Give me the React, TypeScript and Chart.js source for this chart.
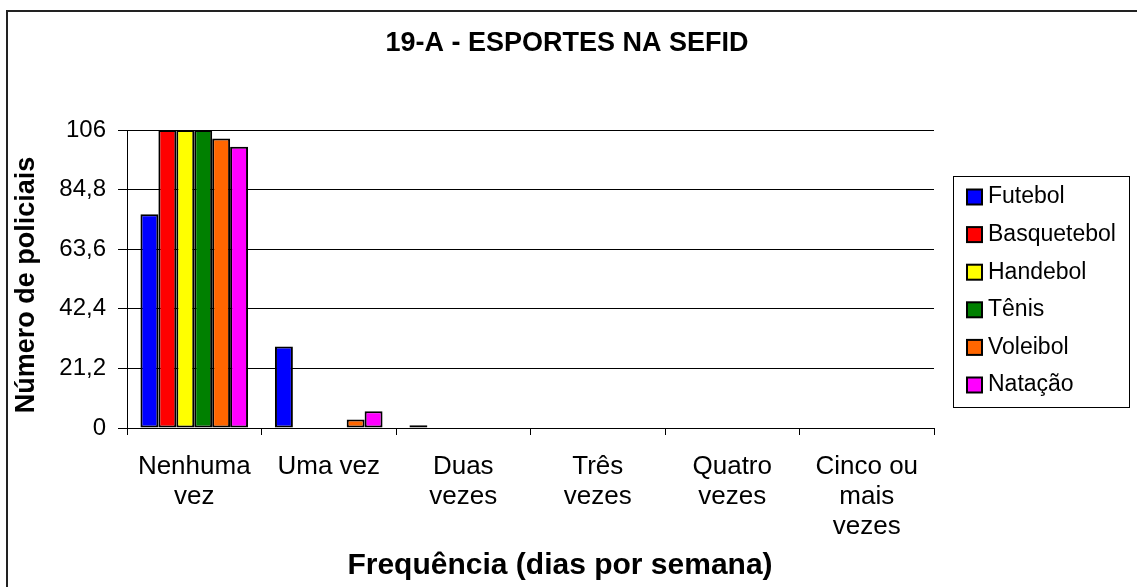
import React, { useEffect, useRef } from "react";
import { Chart, registerables } from "chart.js";

Chart.register(...registerables);

const FONT = '"Liberation Sans", Arial, sans-serif';

const categories: string[][] = [
  ["Nenhuma", "vez"],
  ["Uma vez"],
  ["Duas", "vezes"],
  ["Três", "vezes"],
  ["Quatro", "vezes"],
  ["Cinco ou", "mais", "vezes"],
];

const futebol = [76, 29, 1, 0, 0, 0];
const basquetebol = [106, 0, 0, 0, 0, 0];
const handebol = [106, 0, 0, 0, 0, 0];
const tenis = [106, 0, 0, 0, 0, 0];
const voleibol = [103, 3, 0, 0, 0, 0];
const natacao = [100, 6, 0, 0, 0, 0];

const yTicks = [0, 21.2, 42.4, 63.6, 84.8, 106];

const seriesNames = ["Futebol", "Basquetebol", "Handebol", "Tênis", "Voleibol", "Natação"];
const seriesColors = ["#0000FF", "#FF0000", "#FFFF00", "#008000", "#FF6600", "#FF00FF"];
const seriesData = [futebol, basquetebol, handebol, tenis, voleibol, natacao];

const chartTitle = "19-A - ESPORTES NA SEFID";
const yTitle = "Número de policiais";
const xTitle = "Frequência (dias por semana)";

const decorPlugin = {
  id: "decor",
  beforeDraw(chart: any) {
    const ctx = chart.ctx;
    ctx.save();
    ctx.fillStyle = "#fff";
    ctx.fillRect(0, 0, chart.width, chart.height);
    ctx.strokeStyle = "#222";
    ctx.lineWidth = 2;
    ctx.beginPath();
    ctx.moveTo(7, chart.height + 2);
    ctx.lineTo(7, 11);
    ctx.lineTo(chart.width + 2, 11);
    ctx.stroke();
    ctx.restore();
  },
  afterDraw(chart: any) {
    const ctx = chart.ctx;
    ctx.save();
    ctx.fillStyle = "#000";
    ctx.textAlign = "center";
    ctx.textBaseline = "middle";
    ctx.font = `bold 27px ${FONT}`;
    ctx.fillText(chartTitle, 567, 44);
    ctx.font = `bold 30px ${FONT}`;
    ctx.fillText(xTitle, 560, 566);
    ctx.save();
    ctx.translate(27, 285);
    ctx.rotate(-Math.PI / 2);
    ctx.font = `bold 27px ${FONT}`;
    ctx.fillText(yTitle, 0, 0);
    ctx.restore();

    // legend
    const bx = 953, by = 176, bw = 1129 - 953, bh = 407 - 176;
    ctx.lineWidth = 1;
    ctx.strokeStyle = "#000";
    ctx.strokeRect(bx + 0.5, by + 0.5, bw, bh);
    ctx.font = `23px ${FONT}`;
    ctx.textAlign = "left";
    chart.data.datasets.forEach((ds: any, i: number) => {
      const y = 197 + i * 37.6;
      ctx.fillStyle = ds.backgroundColor;
      ctx.fillRect(967, y - 7.5, 15, 15);
      ctx.lineWidth = 2;
      ctx.strokeStyle = "#000";
      ctx.strokeRect(967, y - 7.5, 15, 15);
      ctx.fillStyle = "#000";
      ctx.fillText(ds.label, 988, y);
    });
    ctx.restore();
  },
};

export default function App() {
  const ref = useRef<HTMLCanvasElement | null>(null);
  useEffect(() => {
    if (!ref.current) return;
    const chart = new Chart(ref.current, {
      type: "bar",
      data: {
        labels: categories,
        datasets: seriesData.map((d, i) => ({
          label: seriesNames[i],
          data: d,
          backgroundColor: seriesColors[i],
          borderColor: "#000",
          borderWidth: 2,
          borderSkipped: false,
          categoryPercentage: 0.8,
          barPercentage: 1.0,
        })),
      },
      options: {
        responsive: false,
        animation: false,
        devicePixelRatio: 1,
        layout: { padding: { left: 0, top: 130, right: 203, bottom: 0 } },
        plugins: {
          legend: { display: false },
          title: { display: false },
          tooltip: { enabled: false },
        },
        scales: {
          x: {
            grid: {
              offset: true,
              drawOnChartArea: false,
              drawTicks: true,
              tickLength: 7,
              color: "#000",
              lineWidth: 1,
            },
            border: { display: true, color: "#000", width: 1 },
            ticks: {
              color: "#000",
              font: { family: FONT, size: 26, lineHeight: 30 / 26 },
              padding: 17,
              maxRotation: 0,
              minRotation: 0,
              autoSkip: false,
            },
            afterFit: (s: any) => {
              s.height = 159;
            },
          },
          y: {
            min: 0,
            max: 106,
            afterBuildTicks: (s: any) => {
              s.ticks = yTicks.map((v) => ({ value: v }));
            },
            ticks: {
              color: "#000",
              font: { family: FONT, size: 24 },
              padding: 12,
              callback: (v: any) => String(v).replace(".", ","),
            },
            grid: { color: "#000", lineWidth: 1, drawTicks: true, tickLength: 9 },
            border: { display: true, color: "#000", width: 1 },
            afterFit: (s: any) => {
              s.width = 127;
            },
          },
        },
      },
      plugins: [decorPlugin],
    });
    return () => chart.destroy();
  }, []);
  return (
    <div style={{ position: "fixed", left: 0, top: 0, width: 1137, height: 587, background: "#fff" }}>
      <canvas ref={ref} width={1137} height={587} style={{ display: "block" }} />
    </div>
  );
}
